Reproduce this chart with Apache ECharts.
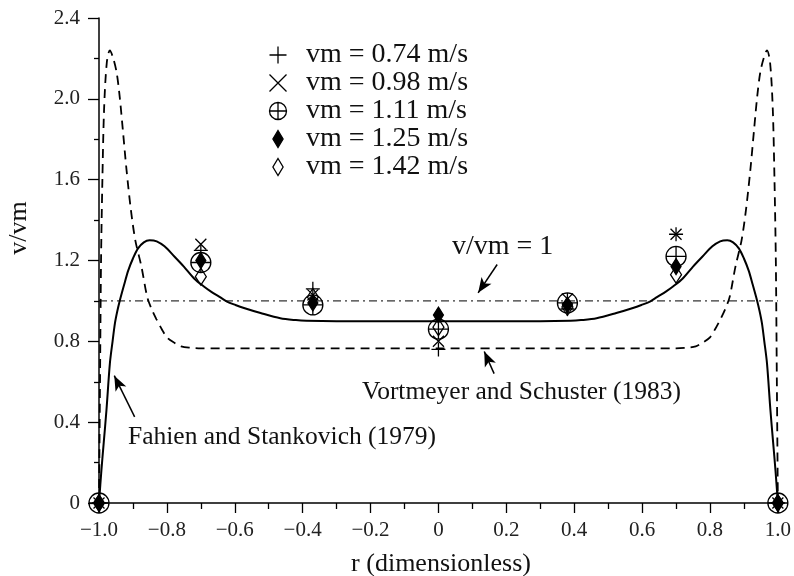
<!DOCTYPE html>
<html>
<head>
<meta charset="utf-8">
<title>v/vm radial velocity profile</title>
<script src="https://cdn.jsdelivr.net/npm/echarts@6/dist/echarts.min.js"></script>
<style>
  html, body { margin: 0; padding: 0; background: #fff; }
  #chart { width: 794px; height: 576px; }
</style>
</head>
<body>
<div id="chart"></div>
<script>
// ------------------------------------------------------------------
// data
// ------------------------------------------------------------------
const rPoints = [-1, -0.7, -0.37, 0, 0.38, 0.7, 1]

const vm074 = [0, 1.25, 1.06, 0.76, 0.96, 1.33, 0]
const vm098 = [0, 1.28, 1.03, 0.80, 1.01, 1.33, 0]
const vm111 = [0, 1.19, 0.98, 0.86, 0.99, 1.22, 0]
const vm125 = [0, 1.20, 0.99, 0.93, 0.98, 1.17, 0]
const vm142 = [0, 1.12, 1.02, 0.87, 0.97, 1.13, 0]

const legendNames = ['vm = 0.74 m/s', 'vm = 0.98 m/s', 'vm = 1.11 m/s', 'vm = 1.25 m/s', 'vm = 1.42 m/s']

// Fahien and Stankovich (1979) - solid
const fahienR = [-1, -0.993, -0.986, -0.978, -0.968, -0.96, -0.953, -0.946, -0.939, -0.926, -0.914, -0.9, -0.885,
  -0.868, -0.851, -0.83, -0.807, -0.778, -0.75, -0.719, -0.69, -0.67, -0.645, -0.623, -0.598, -0.573, -0.524,
  -0.466, -0.42, -0.389, -0.3, -0.15, 0,
  0.15, 0.3, 0.389, 0.42, 0.466, 0.524, 0.573, 0.598, 0.623, 0.645, 0.67, 0.69, 0.719, 0.75, 0.778, 0.807, 0.83,
  0.851, 0.868, 0.885, 0.9, 0.914, 0.926, 0.939, 0.946, 0.953, 0.96, 0.968, 0.978, 0.986, 0.993, 1]
const fahienV = [0, 0.16, 0.30, 0.46, 0.69, 0.80, 0.89, 0.95, 1.00, 1.08, 1.15, 1.21, 1.26,
  1.29, 1.30, 1.295, 1.27, 1.22, 1.17, 1.11, 1.07, 1.046, 1.02, 0.997, 0.98, 0.965, 0.94,
  0.914, 0.905, 0.902, 0.90, 0.90, 0.90,
  0.90, 0.90, 0.902, 0.905, 0.914, 0.94, 0.965, 0.98, 0.997, 1.02, 1.046, 1.07, 1.11, 1.17, 1.22, 1.27, 1.295,
  1.30, 1.29, 1.26, 1.21, 1.15, 1.08, 1.00, 0.95, 0.89, 0.80, 0.69, 0.46, 0.30, 0.16, 0]

// Vortmeyer and Schuster (1983) - dashed
const vortR = [-1, -0.997, -0.994, -0.99, -0.985, -0.977, -0.968, -0.958, -0.948, -0.939, -0.93, -0.919, -0.906,
  -0.893, -0.875, -0.858, -0.845, -0.831, -0.815, -0.8, -0.78, -0.758, -0.73, -0.7, -0.6, -0.3, 0,
  0.3, 0.6, 0.7, 0.73, 0.758, 0.78, 0.8, 0.815, 0.831, 0.845, 0.858, 0.875, 0.893, 0.906, 0.919, 0.93,
  0.939, 0.948, 0.958, 0.968, 0.977, 0.985, 0.99, 0.994, 0.997, 1]
const vortV = [0, 0.6, 1.2, 1.6, 1.95, 2.18, 2.24, 2.2, 2.13, 2.01, 1.85, 1.65, 1.45,
  1.30, 1.17, 1.02, 0.96, 0.91, 0.86, 0.82, 0.795, 0.775, 0.768, 0.765, 0.765, 0.765, 0.765,
  0.765, 0.765, 0.765, 0.768, 0.775, 0.795, 0.82, 0.86, 0.91, 0.96, 1.02, 1.17, 1.30, 1.45, 1.65, 1.85,
  2.01, 2.13, 2.2, 2.24, 2.18, 1.95, 1.6, 1.2, 0.6, 0]

// reference line v/vm = 1
const unityR = [-1, 1]
const unityV = [1, 1]

// ------------------------------------------------------------------
// helpers
// ------------------------------------------------------------------
const pair = (xs, ys) => xs.map((x, i) => [x, ys[i]])
const FONT = '"Liberation Serif", "DejaVu Serif", serif'
const INK = '#111'

function fmtTick(v) {
  if (Math.abs(v) < 1e-9) return '0'
  return (v < 0 ? '\u2212' : '') + Math.abs(v).toFixed(1)
}

// marker shapes
const PLUS = 'path://M0,10L20,10M10,0L10,20'
const CROSS = 'path://M0,0L20,20M20,0L0,20'
const OPLUS = 'path://M10,0A10,10,0,1,1,9.99,0ZM10,0L10,20M0,10L20,10'
const DIAMOND = 'path://M6,0L12,10L6,20L0,10Z'

const markers = [
  { data: vm074, symbol: PLUS, size: 14, fill: 'none' },
  { data: vm098, symbol: CROSS, size: 11, fill: 'none' },
  { data: vm111, symbol: OPLUS, size: 20, fill: 'none' },
  { data: vm125, symbol: DIAMOND, size: [10, 16], fill: '#000' },
  { data: vm142, symbol: DIAMOND, size: [11, 17], fill: 'none' },
]

const scatterSeries = markers.map((m, i) => ({
  name: legendNames[i],
  type: 'scatter',
  data: pair(rPoints, m.data),
  symbol: m.symbol,
  symbolSize: m.size,
  clip: false,
  z: 5 + i,
  itemStyle: { color: m.fill, borderColor: '#000', borderWidth: 1.3, opacity: 1 },
}))

// ------------------------------------------------------------------
// chart
// ------------------------------------------------------------------
const chart = echarts.init(document.getElementById('chart'), null, { renderer: 'canvas' })

chart.setOption({
  animation: false,
  backgroundColor: '#fff',
  grid: { left: 99, right: 11, top: 18, bottom: 73, containLabel: false },
  legend: {
    orient: 'vertical',
    left: 262,
    top: 36,
    itemWidth: 46,
    itemHeight: 17,
    itemGap: 0,
    selectedMode: false,
    textStyle: { fontFamily: FONT, fontSize: 28, color: INK },
    data: legendNames.map((n, i) => ({
      name: n,
      itemStyle: {
        color: markers[i].fill,
        borderColor: '#000',
        borderWidth: 1.3,
      },
    })),
  },
  xAxis: {
    type: 'value',
    min: -1,
    max: 1,
    interval: 0.2,
    axisLine: { show: true, onZero: false, lineStyle: { color: '#000', width: 1.5 } },
    axisTick: { show: true, length: 10, lineStyle: { color: '#000', width: 1.3 } },
    minorTick: { show: true, splitNumber: 2, length: 6, lineStyle: { color: '#000', width: 1.3 } },
    splitLine: { show: false },
    axisLabel: { margin: 17, fontFamily: FONT, fontSize: 21, color: '#222', formatter: fmtTick },
  },
  yAxis: {
    type: 'value',
    min: 0,
    max: 2.4,
    interval: 0.4,
    axisLine: { show: true, onZero: false, lineStyle: { color: '#000', width: 1.5 } },
    axisTick: { show: true, length: 11, lineStyle: { color: '#000', width: 1.3 } },
    minorTick: { show: true, splitNumber: 2, length: 5, lineStyle: { color: '#000', width: 1.3 } },
    splitLine: { show: false },
    axisLabel: { margin: 19, fontFamily: FONT, fontSize: 21, color: '#222', formatter: fmtTick },
  },
  graphic: [
    { type: 'text', x: 19, y: 228, rotation: Math.PI / 2,
      style: { text: 'v/vm', font: '26px ' + FONT, fill: INK, align: 'center', verticalAlign: 'middle' } },
    { type: 'text', x: 441, y: 564,
      style: { text: 'r (dimensionless)', font: '26px ' + FONT, fill: INK, align: 'center', verticalAlign: 'middle' } },
    { type: 'text', x: 452, y: 247,
      style: { text: 'v/vm = 1', font: '28px ' + FONT, fill: INK, align: 'left', verticalAlign: 'middle' } },
    { type: 'text', x: 362, y: 392,
      style: { text: 'Vortmeyer and Schuster (1983)', font: '25.5px ' + FONT, fill: INK, align: 'left', verticalAlign: 'middle' } },
    { type: 'text', x: 128, y: 437,
      style: { text: 'Fahien and Stankovich (1979)', font: '25.5px ' + FONT, fill: INK, align: 'left', verticalAlign: 'middle' } },
  ],
  series: [
    {
      name: 'Fahien and Stankovich (1979)',
      type: 'line',
      data: pair(fahienR, fahienV),
      showSymbol: false,
      smooth: 0.3,
      clip: false,
      lineStyle: { color: '#000', width: 2 },
      z: 3,
    },
    {
      name: 'Vortmeyer and Schuster (1983)',
      type: 'line',
      data: pair(vortR, vortV),
      showSymbol: false,
      smooth: 0.3,
      clip: false,
      lineStyle: { color: '#000', width: 1.8, type: [9, 6] },
      z: 3,
    },
    {
      name: 'v/vm = 1',
      type: 'line',
      data: pair(unityR, unityV),
      showSymbol: false,
      clip: false,
      lineStyle: { color: '#000', width: 1, type: [8, 4, 2, 4] },
      z: 2,
      // annotation arrows, in data coordinates
      markLine: {
        silent: true,
        animation: false,
        symbol: ['none', 'arrow'],
        symbolSize: [9, 15],
        label: { show: false },
        lineStyle: { type: 'solid', color: '#000', width: 1.5 },
        data: [
          [{ coord: [0.173, 1.18] }, { coord: [0.117, 1.04] }],
          [{ coord: [0.164, 0.64] }, { coord: [0.135, 0.75] }],
          [{ coord: [-0.895, 0.426] }, { coord: [-0.955, 0.63] }],
        ],
      },
    },
    ...scatterSeries,
  ],
})
</script>
</body>
</html>
